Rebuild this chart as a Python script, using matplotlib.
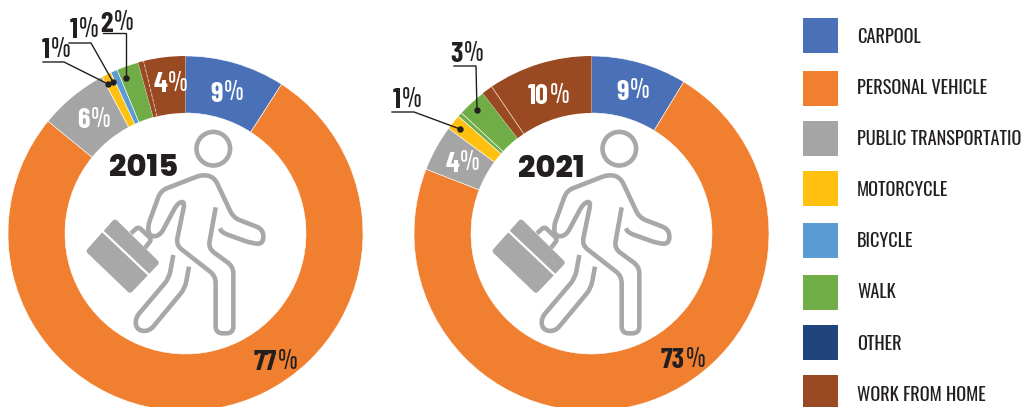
import numpy as np
import matplotlib
matplotlib.use('Agg')
import matplotlib.pyplot as plt
from matplotlib.patches import Circle, Polygon, Rectangle, PathPatch
from matplotlib.path import Path

W, H = 1022, 407

categories = ['CARPOOL', 'PERSONAL VEHICLE', 'PUBLIC TRANSPORTATION', 'MOTORCYCLE',
              'BICYCLE', 'WALK', 'OTHER', 'WORK FROM HOME']
colors = ['#4A71B8', '#F08030', '#A5A5A5', '#FFC00F', '#5B9BD5', '#70AD47', '#22447C', '#9A4A22']
# slivers are not drawn in their legend colour in the picture
colors_2015 = ['#4A71B8', '#F08030', '#A5A5A5', '#FFC00F', '#5B9BD5', '#70AD47', '#9A4A22', '#9A4A22']
colors_2021 = ['#4A71B8', '#F08030', '#A5A5A5', '#FFC00F', '#70AD47', '#70AD47', '#9A4A22', '#9A4A22']

values_2015 = [9.1, 76.8, 6.3, 0.9, 0.6, 2.0, 0.5, 3.8]
values_2021 = [8.7, 72.2, 4.2, 1.4, 0.4, 2.6, 1.0, 9.5]

legend_tops = [18, 71, 121, 171, 223, 275, 325, 375]
legend_text_y = [37, 88, 139, 190, 241, 292, 344, 395]

NARROW = ['Barlow Condensed', 'Liberation Sans']
THIN = ['Oswald', 'Barlow Condensed', 'Liberation Sans']
PCT_FONT = ['Pathway Gothic One', 'Oswald', 'Barlow Condensed', 'Liberation Sans']
HEAVY = ['Poppins', 'Liberation Sans']
DARK = '#231F20'
GRAY = '#A9A8A9'
CY, R_OUT, R_IN = 233.5, 177.5, 120.5

fig = plt.figure(figsize=(W / 100, H / 100), dpi=100)
ax = fig.add_axes([0, 0, 1, 1])


def py(y):
    # picture rows count from the top
    return H - y


def donut(values, cols, cx, dashed):
    wedges, _ = ax.pie(values, colors=cols, startangle=90, counterclock=False,
                       center=(cx, py(CY)), radius=R_OUT,
                       wedgeprops=dict(width=R_OUT - R_IN, edgecolor='white', linewidth=0.4))
    wedges[6].set_linewidth(0)
    wedges[7].set_linewidth(0)
    # hairline inside the brown part
    a = np.radians(wedges[7].theta2)
    ax.plot([cx + R_IN * np.cos(a), cx + R_OUT * np.cos(a)],
            [py(CY) + R_IN * np.sin(a), py(CY) + R_OUT * np.sin(a)],
            color='#E8C9B5', lw=0.6, ls=(0, (4, 2)) if dashed else '-')


def pct(x, y, num, color=DARK, size=20.5):
    # bold number, thin percent sign, x is where they meet
    ax.text(x, py(y + 3), num, color=color, fontsize=size, fontweight='bold', family=NARROW,
            ha='right', va='center')
    ax.text(x + 1, py(y + 1), '%', color=color, fontsize=size, family=PCT_FONT, ha='left', va='center')


def leader(pts):
    xs = [p[0] for p in pts]
    ys = [py(p[1]) for p in pts]
    ax.plot(xs, ys, color=DARK, lw=1.0, solid_joinstyle='miter')
    ax.plot(xs[-1], ys[-1], 'o', color=DARK, ms=3.6)


def rounded(pts, r):
    # polyline with its corners rounded by quadratic curves
    pts = [np.array(p, dtype=float) for p in pts]
    verts = [pts[0]]
    codes = [Path.MOVETO]
    for a, b, c in zip(pts[:-2], pts[1:-1], pts[2:]):
        ra = min(r, np.linalg.norm(a - b) / 2)
        rc = min(r, np.linalg.norm(c - b) / 2)
        p1 = b + (a - b) / np.linalg.norm(a - b) * ra
        p2 = b + (c - b) / np.linalg.norm(c - b) * rc
        verts += [p1, b, p2]
        codes += [Path.LINETO, Path.CURVE3, Path.CURVE3]
    verts.append(pts[-1])
    codes.append(Path.LINETO)
    return Path(verts, codes)


def icon(dx):
    def conv(pts):
        return [(70 + x / 3 + dx, py(120 + y / 3)) for x, y in pts]

    def line(pts, r=7):
        ax.add_patch(PathPatch(rounded(conv(pts), r), fill=False, ec=GRAY, lw=3.3, capstyle='butt', joinstyle='round'))

    ax.add_patch(Circle((213.3 + dx, py(148.7)), 16.8, fill=False, ec=GRAY, lw=3.3))
    # body and arms
    line([(450, 325), (456, 338), (545, 370), (580, 372), (580, 328), (490, 293), (433, 172),
          (398, 163), (272, 212), (232, 322), (240, 350), (270, 347), (322, 250), (345, 243),
          (318, 375), (437, 468), (437, 640), (490, 640), (490, 440), (415, 385), (437, 262)])
    # back leg
    line([(310, 405), (297, 475), (195, 595), (200, 630), (237, 635), (345, 505), (357, 440)])
    # briefcase
    case = [(135, 307), (58, 393), (180, 510), (258, 428)]
    ax.add_patch(Polygon(conv(case), closed=True, fc=GRAY, ec=GRAY, lw=4, joinstyle='round'))
    (x0, y0), (x1, y1) = conv([(96, 332), (240, 468)])
    ax.plot([x0, x1], [y0, y1], color='white', lw=1.6)
    cx, cy = conv([(165, 402)])[0]
    ax.add_patch(Circle((cx, cy), 4, fc=GRAY, ec='none'))
    line([(183, 340), (205, 320), (245, 358), (225, 384)], r=3)


donut(values_2015, colors_2015, 185.5, True)
donut(values_2021, colors_2021, 591.5, False)
ax.set_xlim(0, W)
ax.set_ylim(0, H)
ax.set_aspect('auto')
ax.axis('off')

icon(0)
icon(406)

ax.text(144, py(169), '2015', color=DARK, fontsize=22, family=HEAVY, fontweight=800, ha='center', va='center')
ax.text(551, py(170), '2021', color=DARK, fontsize=22, family=HEAVY, fontweight=800, ha='center', va='center')

# 2015 labels
pct(223, 91, '9', 'white')
pct(90, 118, '6', 'white')
pct(167, 82, '4', 'white')
pct(277, 360, '77')
pct(50, 48, '1')
pct(78, 28, '1')
pct(113, 21, '2')
leader([(43, 62), (64, 62), (108, 84)])
leader([(69, 43), (91, 43), (113, 82)])
leader([(103, 33), (126, 33), (126, 78)])

# 2021 labels
pct(629, 89, '9', 'white')
pct(459, 161, '4', 'white')
pct(549, 94, '10', 'white')
pct(685, 358, '73')
pct(463, 52, '3')
pct(401, 98, '1')
leader([(454, 66), (476, 66), (477, 110)])
leader([(392, 112), (414, 112), (460, 129)])

# legend
for name, col, top, ty in zip(categories, colors, legend_tops, legend_text_y):
    ax.add_patch(Rectangle((803, py(top + 35)), 35, 35, fc=col, ec='none'))
    ax.text(857, py(ty), name, color=DARK, fontsize=13.2, family=THIN, ha='left', va='center')

fig.savefig('out.png', dpi=100)
